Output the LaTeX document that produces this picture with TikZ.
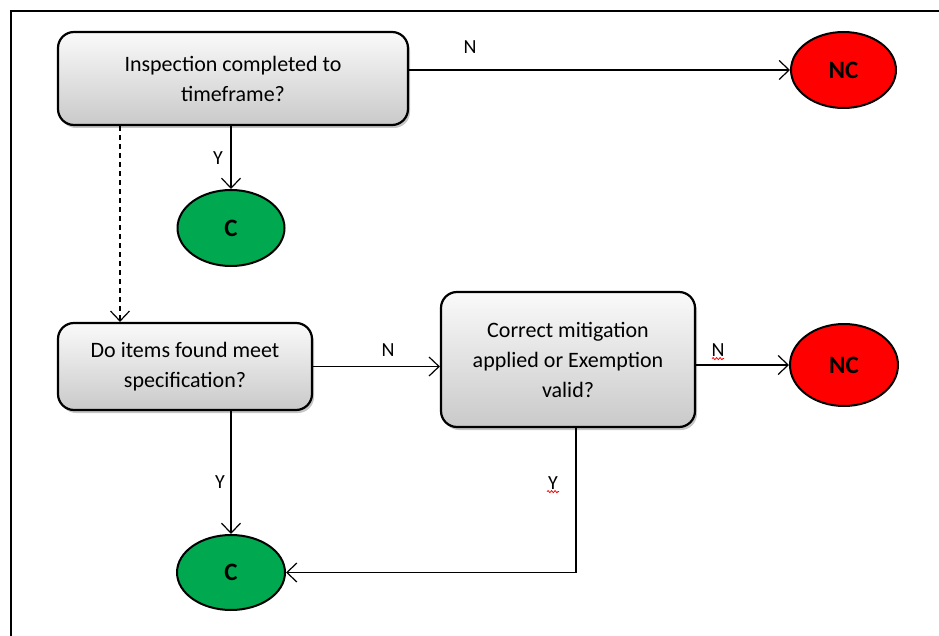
\documentclass[tikz,border=0pt]{standalone}
\usepackage{fontspec}
\setmainfont{Carlito}
\usetikzlibrary{arrows.meta,shapes.geometric,shadows,decorations.pathmorphing}
\definecolor{ncred}{RGB}{255,0,0}
\definecolor{cgreen}{RGB}{0,168,80}
\begin{document}
\begin{tikzpicture}[x=1pt,y=1pt,
  box/.style={draw, line width=2.2pt, rounded corners=16pt, top color=gray!4, bottom color=gray!42,
    drop shadow={shadow xshift=2pt, shadow yshift=-3pt, opacity=0.45},
    align=center, font=\fontsize{22}{30}\selectfont, inner sep=0pt},
  ell/.style={ellipse, draw, line width=2pt, font=\fontsize{25}{30}\selectfont\bfseries, inner sep=0pt},
  arr/.style={-{Straight Barb[length=10pt,width=19pt,line width=1.2pt]}, line width=1.2pt},
  lab/.style={font=\fontsize{20}{22}\selectfont, inner sep=0pt},
  squig/.style={draw=red, line width=0.8pt, decorate, decoration={snake, amplitude=1pt, segment length=3.5pt}}
]
\useasboundingbox (0,0) rectangle (939,-636);
% frame
\coordinate (fbl) at (11,-636);
\coordinate (ftl) at (11,-11);
\coordinate (ftr) at (939,-11);
\draw[line width=1.5pt] (fbl) -- (ftl) -- (ftr);

% nodes
\node[box, minimum width=350pt, minimum height=93pt] (b1) at (233,-78.5) {Inspection completed to\\timeframe?};
\node[ell, fill=ncred, minimum width=105pt, minimum height=76pt] (nc1) at (843.5,-70) {NC};
\node[ell, fill=cgreen, minimum width=107pt, minimum height=76pt] (c1) at (231,-228) {C};
\node[box, minimum width=254pt, minimum height=87pt] (b2) at (185,-366.5) {Do items found meet\\specification?};
\node[box, minimum width=254pt, minimum height=135pt] (b3) at (568,-359.5) {Correct mitigation\\applied or Exemption\\valid?};
\node[ell, fill=ncred, minimum width=108pt, minimum height=82pt] (nc2) at (844,-365) {NC};
\node[ell, fill=cgreen, minimum width=108pt, minimum height=75pt] (c2) at (231,-572.5) {C};

\coordinate (dx) at (120,0);
\coordinate (yx) at (576,0);

% connectors
\draw[arr] (b1.east |- nc1.west) -- (nc1.west);
\draw[arr] (c1.north |- b1.south) -- (c1.north);
\draw[arr, dashed, dash pattern=on 5pt off 4pt] (b1.south -| dx) -- (b2.north -| dx);
\draw[arr] (b2.east) -- (b2.east -| b3.west);
\draw[arr] (b3.east |- nc2.west) -- (nc2.west);
\draw[arr] (c2.north |- b2.south) -- (c2.north);
\draw[arr] (b3.south -| yx) |- (c2.east);

% labels
\node[lab] (ln1) at (470,-47) {N};
\node[lab] (ly1) at (218,-158) {Y};
\node[lab] (ln2) at (388,-350) {N};
\node[lab] (ln3) at (718,-350) {N};
\node[lab] (ly2) at (220,-482) {Y};
\node[lab] (ly3) at (553,-483) {Y};
\draw[squig] ([xshift=-6pt,yshift=-2pt]ln3.south) -- ([xshift=6pt,yshift=-2pt]ln3.south);
\draw[squig] ([xshift=-6pt,yshift=-2pt]ly3.south) -- ([xshift=6pt,yshift=-2pt]ly3.south);
\end{tikzpicture}
\end{document}
